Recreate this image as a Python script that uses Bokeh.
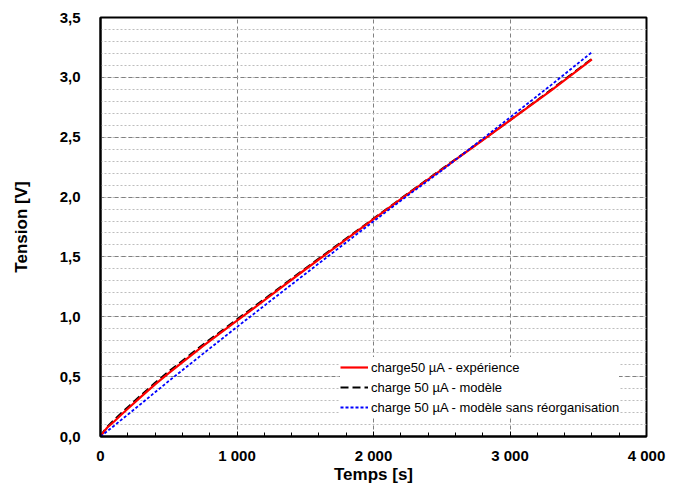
from bokeh.plotting import figure
from bokeh.models import (Range1d, SingleIntervalTicker, CustomJSTickFormatter,
                          Legend, LegendItem)
from bokeh.embed import file_html
from bokeh.resources import INLINE

# ---- data ----
t = [0, 25, 50, 100, 150, 200, 300, 400, 500, 750, 1000, 1250, 1500, 1750,
     2000, 2250, 2500, 2750, 3000, 3300, 3600]
v_exp = [0, 0.040, 0.075, 0.125, 0.180, 0.232, 0.335, 0.435, 0.530, 0.755,
         0.967, 1.180, 1.395, 1.605, 1.815, 2.025, 2.230, 2.435, 2.640, 2.890, 3.150]
v_mod = [0, 0.045, 0.082, 0.138, 0.193, 0.245, 0.348, 0.448, 0.543, 0.767,
         0.978, 1.190, 1.403, 1.612, 1.820, 2.028, 2.233, 2.437, 2.642, 2.895, 3.155]
v_sans = [0, 0.022, 0.045, 0.090, 0.137, 0.183, 0.276, 0.370, 0.463, 0.690,
          0.915, 1.137, 1.358, 1.578, 1.797, 2.012, 2.222, 2.443, 2.665, 2.935, 3.210]

labels = ["charge50 µA - expérience",
          "charge 50 µA - modèle",
          "charge 50 µA - modèle sans réorganisation"]

FONT = "Liberation Sans"

p = figure(width=683, height=494, output_backend="svg", toolbar_location=None,
           x_range=Range1d(0, 4000), y_range=Range1d(0, 3.5),
           min_border_left=100, min_border_right=37, min_border_top=17,
           min_border_bottom=58)
p.background_fill_color = "white"
p.border_fill_color = "white"
p.outline_line_color = "black"
p.outline_line_width = 2

# axes
p.xaxis.ticker = SingleIntervalTicker(interval=1000, num_minor_ticks=5)
p.yaxis.ticker = SingleIntervalTicker(interval=0.5, num_minor_ticks=5)
p.xaxis.formatter = CustomJSTickFormatter(code="""
    const n = Math.round(tick);
    if (n >= 1000) { return Math.floor(n/1000) + ' ' + String(n % 1000).padStart(3, '0'); }
    return String(n);
""")
p.yaxis.formatter = CustomJSTickFormatter(code="return tick.toFixed(1).replace('.', ',');")

for ax in (p.xaxis[0], p.yaxis[0]):
    ax.axis_line_color = "black"
    ax.axis_line_width = 2
    ax.major_label_text_font = FONT
    ax.major_label_text_font_style = "bold"
    ax.major_label_text_font_size = "15px"
    ax.major_label_text_color = "black"
    ax.axis_label_text_font = FONT
    ax.axis_label_text_font_style = "bold"
    ax.axis_label_text_font_size = "17px"
    ax.axis_label_text_color = "black"

p.xaxis.axis_label = "Temps [s]"
p.yaxis.axis_label = "Tension [V]"
p.xaxis.major_tick_in = 5
p.xaxis.major_tick_out = 0
p.xaxis.minor_tick_in = 4
p.xaxis.minor_tick_out = 0
p.xaxis.major_tick_line_color = "black"
p.xaxis.minor_tick_line_color = "black"
p.xaxis.major_label_standoff = 10
p.xaxis.axis_label_standoff = -2
p.yaxis.major_tick_line_color = None
p.yaxis.minor_tick_line_color = None
p.yaxis.major_label_standoff = 14
p.yaxis.axis_label_standoff = 26

# grids
p.xgrid.grid_line_color = "#808080"
p.xgrid.grid_line_dash = "4 3"
p.xgrid.grid_line_width = 1
p.ygrid.grid_line_color = "#808080"
p.ygrid.grid_line_dash = "4 3"
p.ygrid.grid_line_width = 1
p.ygrid.minor_grid_line_color = "#bdbdbd"
p.ygrid.minor_grid_line_dash = "2 2"
p.ygrid.minor_grid_line_width = 1

# series
r_mod = p.line(t, v_mod, line_color="black", line_width=2, line_dash="8 4")
r_exp = p.line(t, v_exp, line_color="#ff0000", line_width=2.2)
r_sans = p.line(t, v_sans, line_color="#0000ff", line_width=1.8, line_dash="3 2")

legend = Legend(items=[LegendItem(label=labels[0], renderers=[r_exp]),
                       LegendItem(label=labels[1], renderers=[r_mod]),
                       LegendItem(label=labels[2], renderers=[r_sans])],
                location=(240, 19))
legend.border_line_color = None
legend.background_fill_color = "white"
legend.background_fill_alpha = 1
legend.padding = 2
legend.margin = 0
legend.spacing = 0
legend.label_height = 20
legend.glyph_height = 20
legend.glyph_width = 28
legend.label_standoff = 3
legend.label_text_font = FONT
legend.label_text_font_size = "13px"
legend.label_text_color = "black"
p.add_layout(legend, "center")

open("out.html", "w").write(file_html(p, INLINE))
